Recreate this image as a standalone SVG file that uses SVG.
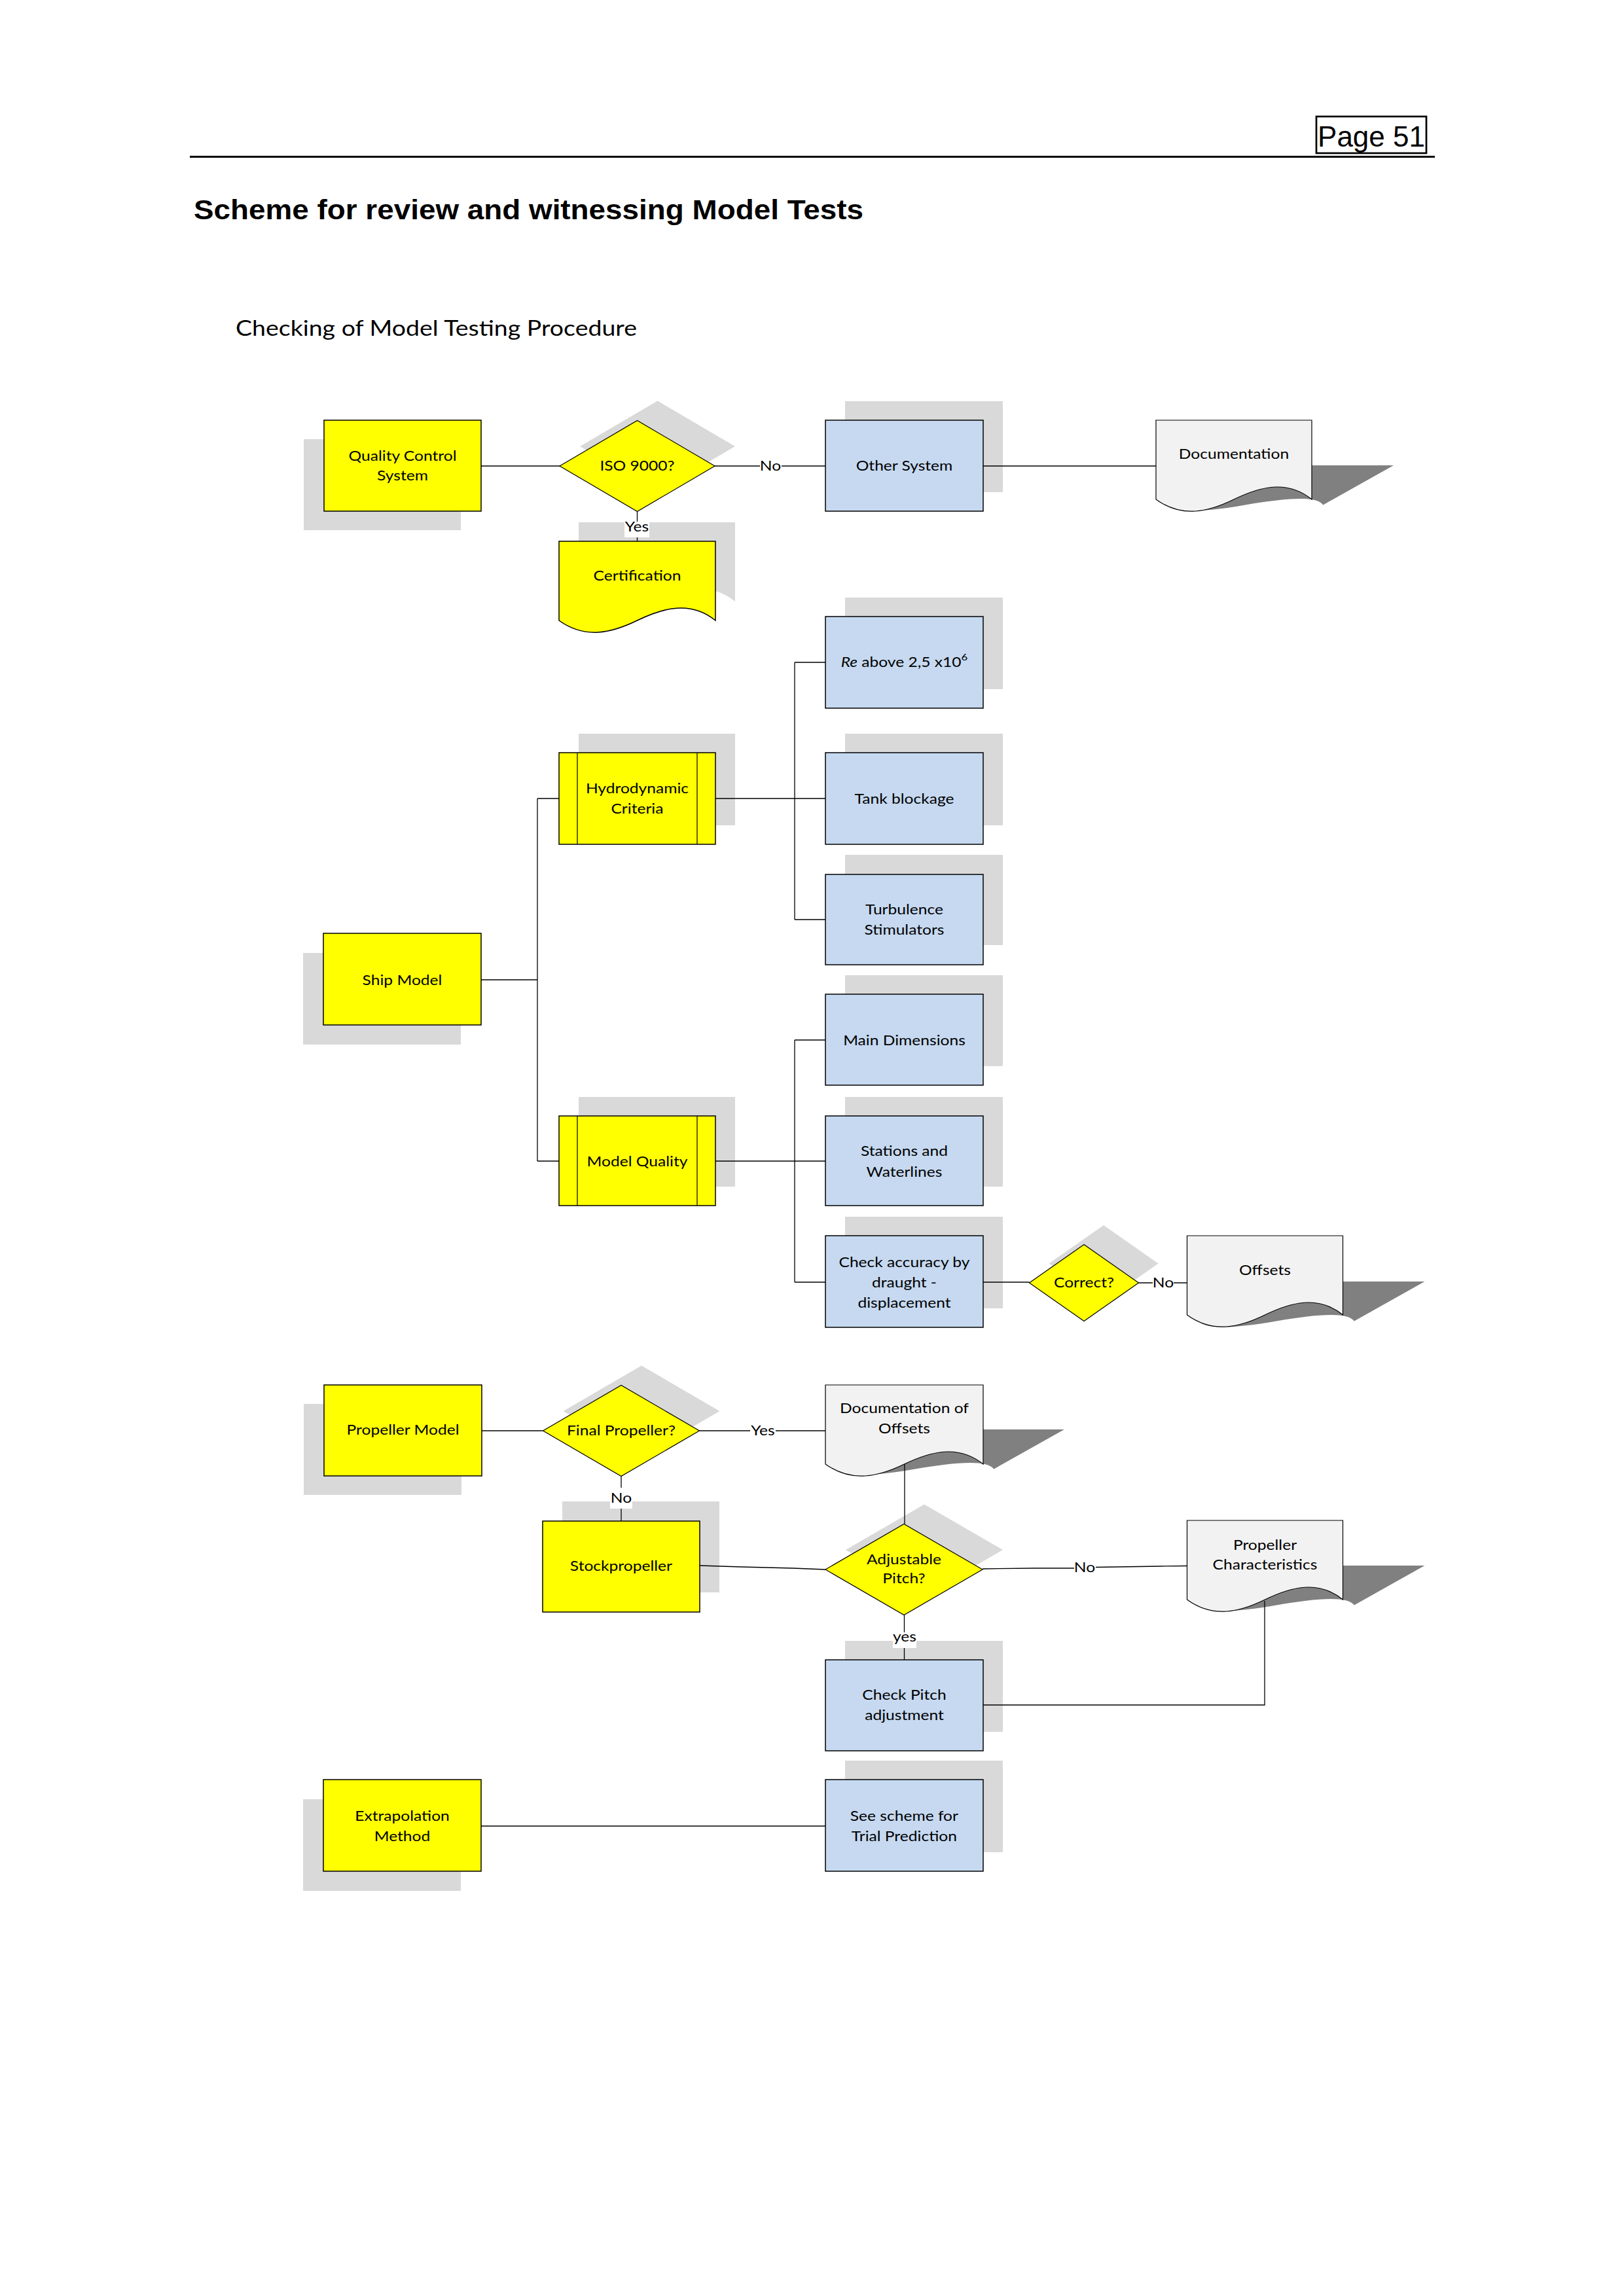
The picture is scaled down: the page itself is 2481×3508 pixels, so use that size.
<svg xmlns="http://www.w3.org/2000/svg" xmlns:xlink="http://www.w3.org/1999/xlink" width="2481" height="3508" viewBox="0 0 2481 3508">
<style>
.t{font-family:Lato,"Noto Sans",sans-serif;font-size:20.5px;fill:#000;text-anchor:middle;transform-box:fill-box;transform-origin:center;transform:scaleX(1.2)}
.y{fill:#ffff00;stroke:#000;stroke-width:1.5}
.yd{fill:#ffff00;stroke:#000;stroke-width:1.2}
.b{fill:#c6d9f0;stroke:#000;stroke-width:1.5}
.g{fill:#f2f2f2;stroke:#000;stroke-width:1.2}
.s{fill:#d9d9d9}
.ds{fill:#808080}
.c{stroke:#000;stroke-width:1.3;fill:none}
.lb{fill:#fff}
.ln{stroke:#000;stroke-width:1.2}
</style>
<defs>
<path id="doc" d="M0,0 H238 V121 C200,90 158,102 119,121 C80,140 40,150 0,121 Z"/>
</defs>
<rect width="2481" height="3508" fill="#fff"/>
<g id="header">
<rect x="2011" y="178" width="168" height="56" fill="none" stroke="#000" stroke-width="2.7"/>
<text x="2095" y="224" font-family="Liberation Sans,Arial,sans-serif" font-size="44" text-anchor="middle">Page 51</text>
<line x1="290" y1="239.5" x2="2192" y2="239.5" stroke="#000" stroke-width="3"/>
<text x="296" y="335" font-family="Liberation Sans,Arial,sans-serif" font-weight="bold" font-size="43" textLength="1023" lengthAdjust="spacingAndGlyphs">Scheme for review and witnessing Model Tests</text>
<text x="360" y="513" font-family="Lato,Noto Sans,sans-serif" font-size="33" textLength="613" lengthAdjust="spacingAndGlyphs">Checking of Model Testing Procedure</text>
</g>
<g id="n-qc"><rect class="s" x="464" y="671" width="240" height="139"/><rect class="y" x="495" y="642" width="240" height="139"/><text class="t"><tspan x="615" y="704">Quality Control</tspan><tspan x="615" y="734.5">System</tspan></text></g>
<g id="n-iso"><polygon class="s" points="886,682 1004.5,612.5 1123,682 1004.5,751.5"/><polygon class="yd" points="855,712 973.5,642.5 1092,712 973.5,781.5"/><text class="t" x="973.5" y="719">ISO 9000?</text></g>
<g id="n-cert"><use href="#doc" class="s" transform="translate(884,798) scale(1.004,1)"/><use href="#doc" class="y" transform="translate(854,827) scale(1.004,1)"/><text class="t" x="973.5" y="887">Certification</text></g>
<g id="n-other"><rect class="s" x="1291" y="613" width="241" height="139"/><rect class="b" x="1261" y="642" width="241" height="139"/><text class="t" x="1381.5" y="719">Other System</text></g>
<g id="n-doc"><use href="#doc" class="ds" transform="translate(1766,642) matrix(1,0,-0.89,0.5,125,69)"/><use href="#doc" class="g" transform="translate(1766,642)"/><text class="t" x="1885" y="701">Documentation</text></g>
<g id="n-re"><rect class="s" x="1291" y="913" width="241" height="140"/><rect class="b" x="1261" y="942" width="241" height="140"/><text class="t" x="1381.5" y="1019.5"><tspan font-style="italic">Re</tspan> above 2,5 x10<tspan font-size="14" dy="-10">6</tspan></text></g>
<g id="n-hydro"><rect class="s" x="884" y="1121" width="239" height="140"/><rect class="y" x="854" y="1150" width="239" height="140"/><line class="ln" x1="882" y1="1150" x2="882" y2="1290"/><line class="ln" x1="1065" y1="1150" x2="1065" y2="1290"/><text class="t"><tspan x="973.5" y="1212.5">Hydrodynamic</tspan><tspan x="973.5" y="1243">Criteria</tspan></text></g>
<g id="n-tank"><rect class="s" x="1291" y="1121" width="241" height="140"/><rect class="b" x="1261" y="1150" width="241" height="140"/><text class="t" x="1381.5" y="1228">Tank blockage</text></g>
<g id="n-turb"><rect class="s" x="1291" y="1306" width="241" height="138"/><rect class="b" x="1261" y="1336" width="241" height="138"/><text class="t"><tspan x="1381.5" y="1397">Turbulence</tspan><tspan x="1381.5" y="1428">Stimulators</tspan></text></g>
<g id="n-ship"><rect class="s" x="463" y="1456" width="241" height="140"/><rect class="y" x="494" y="1426" width="241" height="140"/><text class="t" x="614.5" y="1505">Ship Model</text></g>
<g id="n-main"><rect class="s" x="1291" y="1490" width="241" height="139"/><rect class="b" x="1261" y="1519" width="241" height="139"/><text class="t" x="1381.5" y="1597">Main Dimensions</text></g>
<g id="n-mq"><rect class="s" x="884" y="1676" width="239" height="137"/><rect class="y" x="854" y="1705" width="239" height="137"/><line class="ln" x1="882" y1="1705" x2="882" y2="1842"/><line class="ln" x1="1065" y1="1705" x2="1065" y2="1842"/><text class="t" x="973.5" y="1782">Model Quality</text></g>
<g id="n-stations"><rect class="s" x="1291" y="1676" width="241" height="137"/><rect class="b" x="1261" y="1705" width="241" height="137"/><text class="t"><tspan x="1381.5" y="1766">Stations and</tspan><tspan x="1381.5" y="1798">Waterlines</tspan></text></g>
<g id="n-check"><rect class="s" x="1291" y="1859" width="241" height="140"/><rect class="b" x="1261" y="1888" width="241" height="140"/><text class="t"><tspan x="1381.5" y="1936">Check accuracy by</tspan><tspan x="1381.5" y="1967">draught -</tspan><tspan x="1381.5" y="1998">displacement</tspan></text></g>
<g id="n-correct"><polygon class="s" points="1602.5,1930.5 1686,1872 1769.5,1930.5 1686,1989"/><polygon class="yd" points="1572.5,1960 1656,1901.5 1739.5,1960 1656,2018.5"/><text class="t" x="1656" y="1967">Correct?</text></g>
<g id="n-offsets"><use href="#doc" class="ds" transform="translate(1813.5,1888) matrix(1,0,-0.89,0.5,125,70)"/><use href="#doc" class="g" transform="translate(1813.5,1888)"/><text class="t" x="1932.5" y="1948.5">Offsets</text></g>
<g id="n-propmodel"><rect class="s" x="464" y="2145" width="241" height="139"/><rect class="y" x="495" y="2116" width="241" height="139"/><text class="t" x="615.5" y="2192">Propeller Model</text></g>
<g id="n-final"><polygon class="s" points="860.5,2156 980,2086.5 1099.5,2156 980,2225.5"/><polygon class="yd" points="829.5,2186 949,2116.5 1068.5,2186 949,2255.5"/><text class="t" x="949" y="2193">Final Propeller?</text></g>
<g id="n-docoff"><use href="#doc" class="ds" transform="translate(1261,2116) matrix(1,0,-0.89,0.5,124,68) scale(1.0126,1)"/><use href="#doc" class="g" transform="translate(1261,2116) scale(1.0126,1)"/><text class="t"><tspan x="1381.5" y="2159.5">Documentation of</tspan><tspan x="1381.5" y="2190">Offsets</tspan></text></g>
<g id="n-stock"><rect class="s" x="859" y="2294" width="240" height="139"/><rect class="y" x="829" y="2324" width="240" height="139"/><text class="t" x="949" y="2400">Stockpropeller</text></g>
<g id="n-adj"><polygon class="s" points="1292,2368 1412,2298.5 1532,2368 1412,2437.5"/><polygon class="yd" points="1261,2398 1381,2328.5 1501,2398 1381,2467.5"/><text class="t"><tspan x="1381" y="2390">Adjustable</tspan><tspan x="1381" y="2419.5">Pitch?</tspan></text></g>
<g id="n-propchar"><use href="#doc" class="ds" transform="translate(1813.5,2323) matrix(1,0,-0.89,0.5,125,69)"/><use href="#doc" class="g" transform="translate(1813.5,2323)"/><text class="t"><tspan x="1932.5" y="2368">Propeller</tspan><tspan x="1932.5" y="2398.5">Characteristics</tspan></text></g>
<g id="n-checkpitch"><rect class="s" x="1291" y="2507" width="241" height="139"/><rect class="b" x="1261" y="2536" width="241" height="139"/><text class="t"><tspan x="1381.5" y="2597">Check Pitch</tspan><tspan x="1381.5" y="2628.5">adjustment</tspan></text></g>
<g id="n-extrap"><rect class="s" x="463" y="2749" width="241" height="140"/><rect class="y" x="494" y="2719" width="241" height="140"/><text class="t"><tspan x="614.5" y="2782">Extrapolation</tspan><tspan x="614.5" y="2813">Method</tspan></text></g>
<g id="n-see"><rect class="s" x="1291" y="2690" width="241" height="140"/><rect class="b" x="1261" y="2719" width="241" height="140"/><text class="t"><tspan x="1381.5" y="2782">See scheme for</tspan><tspan x="1381.5" y="2813">Trial Prediction</tspan></text></g>
<g id="connectors">
<path class="c" d="M735,712 H855"/>
<path class="c" d="M1092,712 H1261"/>
<path class="c" d="M973.5,781.5 V827"/>
<path class="c" d="M1502,712 H1766"/>
<path class="c" d="M1093,1220 H1261 M1214,1012 V1405 M1214,1012 H1261 M1214,1405 H1261"/>
<path class="c" d="M735,1497 H821 M821,1220 V1774 M821,1220 H854 M821,1774 H854"/>
<path class="c" d="M1093,1774 H1261 M1214,1589 V1959 M1214,1589 H1261 M1214,1959 H1261"/>
<path class="c" d="M1502,1959 H1572.5"/>
<path class="c" d="M1739.5,1960 H1813.5"/>
<path class="c" d="M736,2186 H829.5"/>
<path class="c" d="M1068.5,2186 H1261"/>
<path class="c" d="M949,2255.5 V2324"/>
<path class="c" d="M1382,2237 V2328.5"/>
<path class="c" d="M1069,2392 L1132,2394 L1211,2396 L1261,2398"/>
<path class="c" d="M1501,2397 L1581,2396 L1640,2396 L1675,2394.5 L1773,2393 L1813.5,2392.5"/>
<path class="c" d="M1381.5,2467.5 V2536"/>
<path class="c" d="M1932,2446 V2605 H1502"/>
<path class="c" d="M735,2790 H1261"/>
<rect class="lb" x="1161" y="700" width="33" height="24"/><text class="t" x="1177" y="719.5">No</text>
<rect class="lb" x="954" y="797" width="38" height="24"/><text class="t" x="973" y="812.5">Yes</text>
<rect class="lb" x="1761" y="1948" width="32" height="24"/><text class="t" x="1777" y="1967.5">No</text>
<rect class="lb" x="1146" y="2174" width="39" height="24"/><text class="t" x="1165.5" y="2193.5">Yes</text>
<rect class="lb" x="932" y="2273" width="34" height="32"/><text class="t" x="949" y="2296.5">No</text>
<rect class="lb" x="1641" y="2383" width="33" height="24"/><text class="t" x="1657" y="2402.5">No</text>
<rect class="lb" x="1364" y="2494" width="36" height="24"/><text class="t" x="1382" y="2508">yes</text>
</g>
</svg>
